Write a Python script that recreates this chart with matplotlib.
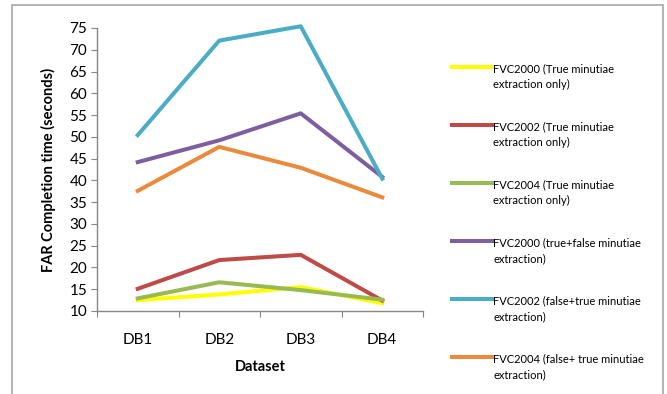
import matplotlib
matplotlib.use("Agg")
import matplotlib.pyplot as plt
from matplotlib.patches import Rectangle

plt.rcParams['font.family'] = ['Lato', 'DejaVu Sans']

datasets = ["DB1", "DB2", "DB3", "DB4"]

fvc2000_true = [12.5, 13.8, 15.5, 11.8]
fvc2002_true = [15.1, 21.7, 22.9, 12.4]
fvc2004_true = [12.9, 16.6, 14.8, 12.6]
fvc2000_tf = [44.2, 49.2, 55.4, 40.8]
fvc2002_tf = [50.4, 72.1, 75.4, 40.4]
fvc2004_tf = [37.6, 47.7, 42.9, 36.1]

labels = [
    "FVC2000 (True minutiae\nextraction only)",
    "FVC2002 (True minutiae\nextraction only)",
    "FVC2004 (True minutiae\nextraction only)",
    "FVC2000 (true+false minutiae\nextraction)",
    "FVC2002 (false+true minutiae\nextraction)",
    "FVC2004 (false+ true minutiae\nextraction)",
]
colors = ["#FFFF00", "#BE4B48", "#98B954", "#7D5FA0", "#4AACC5", "#EA8A3C"]
series = [fvc2000_true, fvc2002_true, fvc2004_true, fvc2000_tf, fvc2002_tf, fvc2004_tf]

W, H = 667, 394
fig = plt.figure(figsize=(W / 100, H / 100), dpi=100)

# outer chart border
fig.add_artist(Rectangle((12 / W, -0.05), (663 - 12) / W, 1.05 - 5 / H,
                         transform=fig.transFigure, fill=False,
                         edgecolor="#A6A6A6", linewidth=1.2))

ax = fig.add_axes([97 / W, 1 - 311 / H, (423 - 97) / W, (311 - 28) / H])

x = list(range(len(datasets)))
for vals, lab, c in zip(series, labels, colors):
    ax.plot(x, vals, color=c, linewidth=2.9, label=lab, clip_on=False)

ax.set_xlim(-0.5, 3.5)
ax.set_ylim(10, 75)
ax.set_yticks(range(10, 80, 5))
ax.set_xticks([-0.5, 0.5, 1.5, 2.5, 3.5])
ax.set_xticklabels([])
ax.set_xticks(x, minor=True)
ax.set_xticklabels(datasets, minor=True)
ax.tick_params(axis="x", which="minor", length=0, pad=16, labelsize=11)
ax.tick_params(axis="x", which="major", direction="out", length=4, color="#868686")
ax.tick_params(axis="y", direction="out", length=4, color="#868686", labelsize=11, pad=3)

for s in ["top", "right"]:
    ax.spines[s].set_visible(False)
for s in ["left", "bottom"]:
    ax.spines[s].set_color("#868686")
    ax.spines[s].set_linewidth(1.0)

ax.set_xlabel("Dataset", fontsize=10.5, fontweight="bold", labelpad=9)
ax.set_ylabel("FAR Completion time (seconds)", fontsize=10.5, fontweight="bold", labelpad=10)

leg = fig.legend(loc="upper left", bbox_to_anchor=(452 / W, 1 - 63 / H),
                 frameon=False, fontsize=8, handlelength=3.6, handletextpad=0.1,
                 labelspacing=2.84, borderpad=0, borderaxespad=0)
for t in leg.get_texts():
    t.set_linespacing(1.5)
for col in leg._legend_handle_box.get_children():
    for item in col.get_children():
        item.align = "top"
for h in leg.legend_handles:
    h.set_linewidth(2.9)

fig.savefig("out.png", dpi=100)
